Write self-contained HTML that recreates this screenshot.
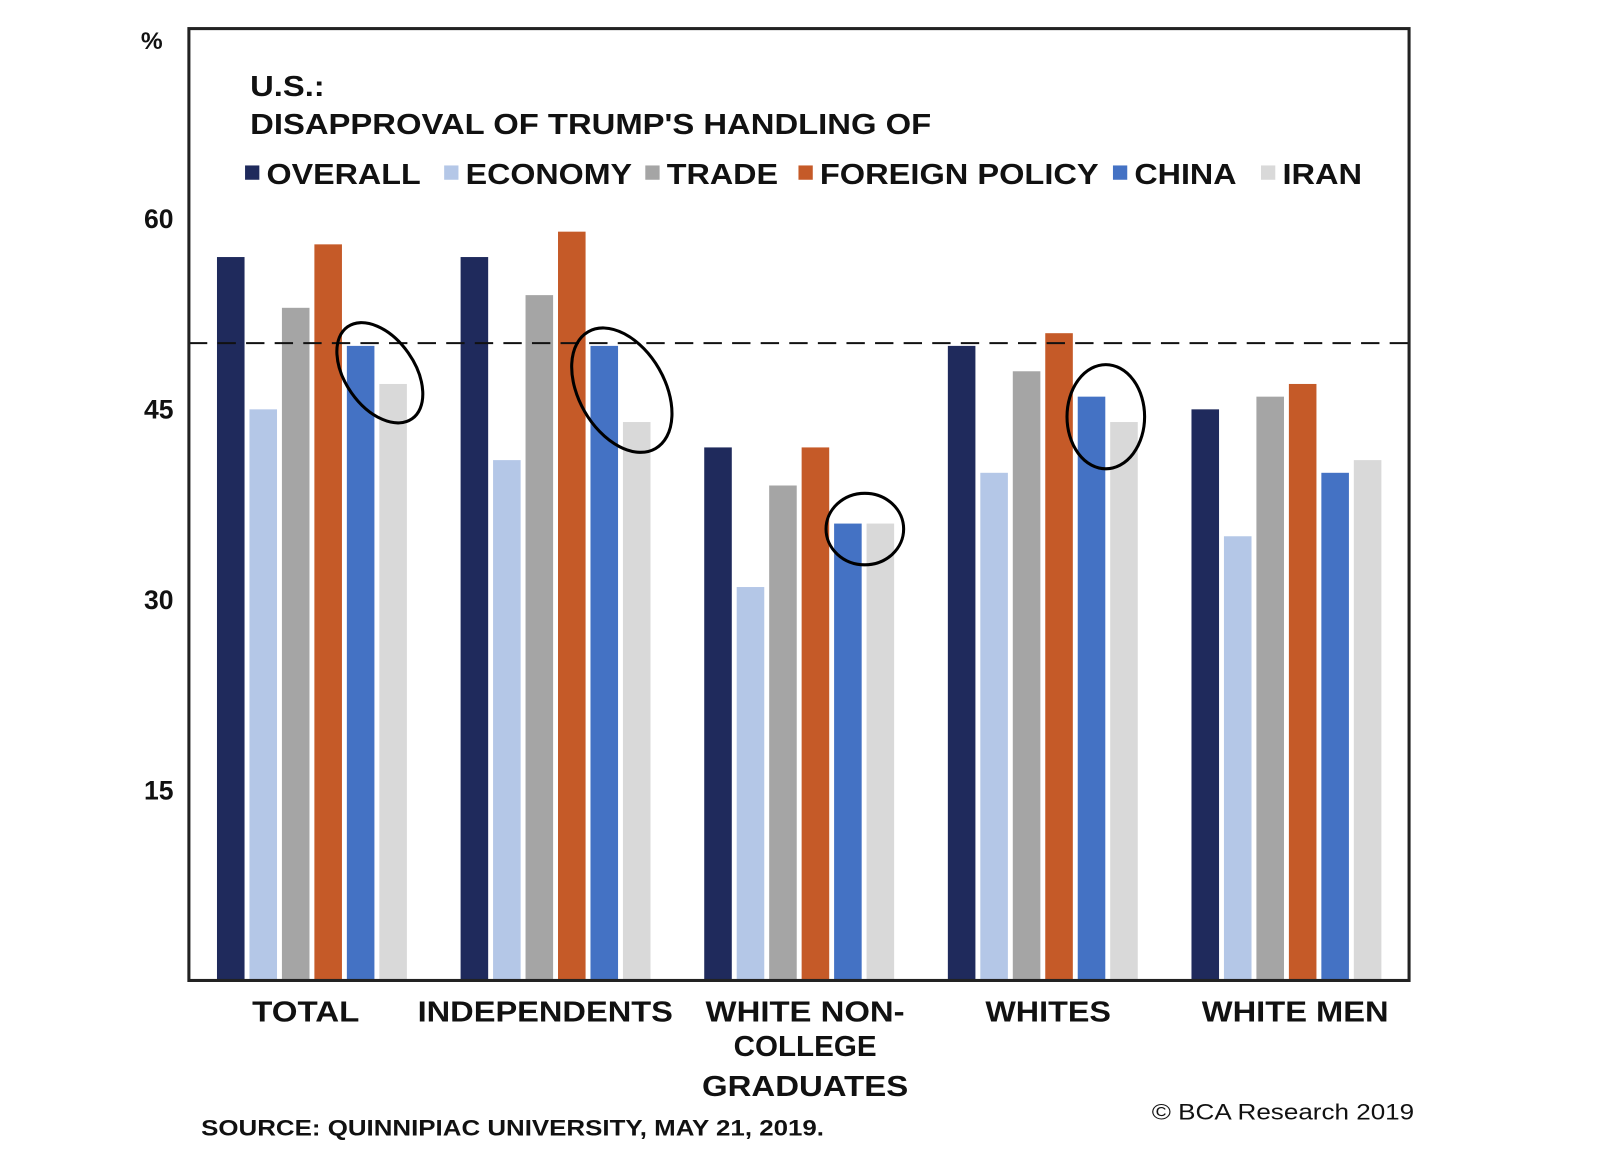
<!DOCTYPE html>
<html><head><meta charset="utf-8"><style>
body{margin:0;background:#fff;width:1600px;height:1150px;overflow:hidden;font-family:"Liberation Sans",Arial,sans-serif;}
svg text{font-family:"Liberation Sans",Arial,sans-serif;font-weight:bold;fill:#111;}
</style></head><body>
<svg id="c" width="1600" height="1150" viewBox="0 0 1567 1126" preserveAspectRatio="none">
<text x="138" y="48" font-size="24">%</text>
<text x="245" y="94" font-size="28" textLength="73" lengthAdjust="spacingAndGlyphs">U.S.:</text>
<text x="245" y="131" font-size="28" textLength="667" lengthAdjust="spacingAndGlyphs">DISAPPROVAL OF TRUMP'S HANDLING OF</text>
<g id="legend"></g>
<g id="bars"></g>
<line x1="185" y1="336" x2="1380" y2="336" stroke="#111" stroke-width="2" stroke-dasharray="18,10"/>
<g fill="none" stroke="#000" stroke-width="3">
<ellipse cx="372" cy="365" rx="34" ry="55" transform="rotate(-35 372 365)"/>
<ellipse cx="609" cy="382" rx="42" ry="66" transform="rotate(-30 609 382)"/>
<ellipse cx="847" cy="518" rx="38" ry="35"/>
<ellipse cx="1083" cy="408" rx="38" ry="51"/>
</g>
<rect x="185" y="28" width="1195" height="932" fill="none" stroke="#222" stroke-width="3"/>
<g id="yt"></g>
<g id="xl"></g>
<text x="197" y="1112" font-size="22" textLength="610" lengthAdjust="spacingAndGlyphs">SOURCE: QUINNIPIAC UNIVERSITY, MAY 21, 2019.</text>
<text x="1128" y="1096" font-size="22" textLength="257" lengthAdjust="spacingAndGlyphs" style="font-weight:normal">© BCA Research 2019</text>
</svg>
<script>
const categories=[["TOTAL"],["INDEPENDENTS"],["WHITE NON-","COLLEGE","GRADUATES"],["WHITES"],["WHITE MEN"]];
const seriesNames=["OVERALL","ECONOMY","TRADE","FOREIGN POLICY","CHINA","IRAN"];
const overall=[57,57,42,50,45];
const economy=[45,41,31,40,35];
const trade=[53,54,39,48,46];
const foreignPolicy=[58,59,42,51,47];
const china=[50,50,36,46,40];
const iran=[47,44,36,44,41];
const yTicks=[15,30,45,60];
const series=[overall,economy,trade,foreignPolicy,china,iran];
const colors=["#1f2a5c","#b4c7e7","#a5a5a5","#c55a28","#4472c4","#d9d9d9"];
const labelWidths=[[105],[250],[195,140,202],[123],[183]];
const labelCenters=[299.5,534,788.5,1026.5,1268.5];
const legendWidths=[151,163,109,273,100,78];
const NS="http://www.w3.org/2000/svg";
const x0=185,x1=1380,y0=960,y1=28,ymax=75;
const Y=v=>y0-(v/ymax)*(y0-y1);
const gw=238.6;
const bw=27,step=31.8;
const X=(g,s)=>212.5+g*gw+s*step;
const bars=document.getElementById('bars');
series.forEach((arr,s)=>arr.forEach((v,g)=>{
 const r=document.createElementNS(NS,'rect');
 r.setAttribute('x',X(g,s));r.setAttribute('y',Y(v));
 r.setAttribute('width',bw);r.setAttribute('height',y0-Y(v));
 r.setAttribute('fill',colors[s]);
 
 
 bars.appendChild(r);
}));
const yt=document.getElementById('yt');
yTicks.forEach(t=>{
 const e=document.createElementNS(NS,'text');
 e.setAttribute('x',170);e.setAttribute('y',Y(t)+9);
 e.setAttribute('text-anchor','end');e.setAttribute('font-size','26');
 e.textContent=t;
 
 
 yt.appendChild(e);
});
const xl=document.getElementById('xl');
const lineY=[1000,1034,1073];
categories.forEach((lines,g)=>lines.forEach((l,i)=>{
 const e=document.createElementNS(NS,'text');
 const w=labelWidths[g][i];
 const cx=labelCenters[g];
 e.setAttribute('x',cx-w/2);e.setAttribute('y',lineY[i]);
 e.setAttribute('font-size','28');
 e.setAttribute('textLength',w);e.setAttribute('lengthAdjust','spacingAndGlyphs');
 e.textContent=l;
 
 
 xl.appendChild(e);
}));
const lg=document.getElementById('legend');
const lx=[240,435,632,782,1090,1235];
seriesNames.forEach((n,i)=>{
 const r=document.createElementNS(NS,'rect');
 r.setAttribute('x',lx[i]);r.setAttribute('y',162);r.setAttribute('width',14);r.setAttribute('height',14);
 r.setAttribute('fill',colors[i]);
 
 
 lg.appendChild(r);
 const t=document.createElementNS(NS,'text');
 t.setAttribute('x',lx[i]+21);t.setAttribute('y',180);t.setAttribute('font-size','28');
 t.setAttribute('textLength',legendWidths[i]);t.setAttribute('lengthAdjust','spacingAndGlyphs');
 t.textContent=n;
 
 
 lg.appendChild(t);
});
</script>
</body></html>
